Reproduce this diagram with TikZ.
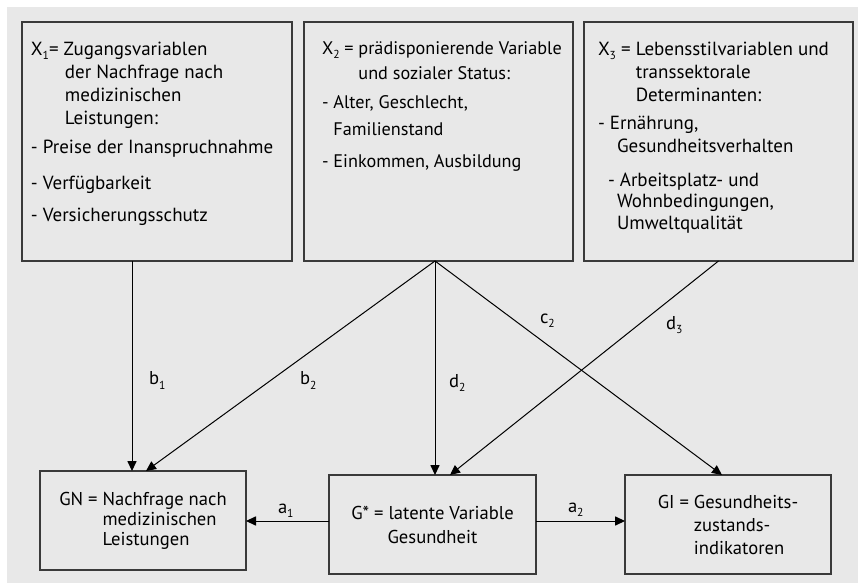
\documentclass[tikz,border=0pt]{standalone}
\usepackage{fontspec}
\setmainfont{PT Sans}
\usetikzlibrary{arrows.meta}
\definecolor{bggray}{HTML}{E8E8E8}
\definecolor{boxline}{HTML}{3A3A3A}
\newcommand{\lowidx}[1]{\raisebox{-2pt}{\fontsize{5.8}{6}\selectfont #1}}

\begin{document}
\begin{tikzpicture}[x=0.5pt, y=-0.5pt, line width=0.5pt,
  every node/.style={font=\fontsize{9.3}{11.5}\selectfont, inner sep=0pt, outer sep=0pt},
  box/.style={draw=boxline, line width=0.7pt, rectangle},
  toptxt/.style={anchor=north west, align=left, font=\fontsize{9.5}{11.5}\selectfont},
  lbl/.style={anchor=base west},
  arr/.style={-{Triangle[length=5pt,width=4.6pt]}}]
  \useasboundingbox (0,0) rectangle (858,583);
  \fill[bggray] (7,7) rectangle (858,583);
  % upper boxes
  \node[box, minimum width=135pt, minimum height=119.5pt] (x1) at (157,141.5) {};
  \node[box, minimum width=134.5pt, minimum height=119.5pt] (x2) at (438.5,141.5) {};
  \node[box, minimum width=134.5pt, minimum height=119.5pt] (x3) at (718.5,141.5) {};
  \node[toptxt] (x1txt) at (31,42) {X\lowidx{1}= Zugangsvariablen\\
    \hspace*{17pt}der Nachfrage nach\\
    \hspace*{17pt}medizinischen\\
    \hspace*{17pt}Leistungen:\\[3pt]
    - Preise der Inanspruchnahme\\[6.5pt]
    - Verfügbarkeit\\[4.5pt]
    - Versicherungsschutz};
  \node[toptxt, font=\fontsize{9.1}{11.5}\selectfont] (x2txt) at (322,42) {X\lowidx{2} = prädisponierende Variable\\[1pt]
    \hphantom{X\lowidx{2} = }und sozialer Status:\\[3pt]
    - Alter, Geschlecht,\\[2pt]
    \hphantom{- }Familienstand\\[4.5pt]
    - Einkommen, Ausbildung};
  \node[toptxt] (x3txt) at (598,42) {X\lowidx{3} = Lebensstilvariablen und\\
    \hphantom{X\lowidx{3} = }transsektorale\\
    \hphantom{X\lowidx{3} = }Determinanten:\\[2.5pt]
    - Ernährung,\\
    \hspace*{9.5pt}Gesundheitsverhalten\\[5.5pt]
    \hspace*{5pt}- Arbeitsplatz- und\\[-1pt]
    \hspace*{9.5pt}Wohnbedingungen,\\[-0.5pt]
    \hspace*{9.5pt}Umweltqualität};
  % lower boxes
  \node[box, minimum width=103pt, minimum height=49.5pt, align=left,
    font=\fontsize{9.3}{10}\selectfont] (gn) at (143,520.5) {GN = Nachfrage nach\\
    \hphantom{GN = }medizinischen\\
    \hphantom{GN = }Leistungen};
  \node[box, minimum width=103.5pt, minimum height=49.5pt, align=center,
    font=\fontsize{9.3}{12}\selectfont] (gs) at (432.5,524.5) {G* = latente Variable\\ Gesundheit};
  \node[box, minimum width=103pt, minimum height=49.5pt, align=left] (gi) at (728,524.5) {GI = Gesundheits-\\
    \hphantom{GI = }zustands-\\
    \hphantom{GI = }indikatoren};
  % arrows
  \coordinate (apex) at ([xshift=-1.75pt]x2.south);
  \draw[arr] ([xshift=55pt]x1.south west) -- ([xshift=55pt]x1.south west |- gn.north);
  \draw[arr] (apex) -- ([xshift=53pt]gn.north west);
  \draw[arr] (apex) -- (apex |- gs.north);
  \draw[arr] (x3.south) -- ([xshift=60.5pt]gs.north west);
  \draw[arr] (apex) -- ([xshift=-3pt]gi.north);
  \draw[arr] ([yshift=1.75pt]gs.west) -- ([yshift=1.75pt]gs.west -| gn.east);
  \draw[arr] ([yshift=1.75pt]gs.east) -- ([yshift=1.75pt]gs.east -| gi.west);
  % path labels
  \node[lbl] (lb1) at (149,385) {b\lowidx{1}};
  \node[lbl] (lb2) at (300,385) {b\lowidx{2}};
  \node[lbl] (ld2) at (449,387) {d\lowidx{2}};
  \node[lbl] (lc2) at (540,323) {c\lowidx{2}};
  \node[lbl] (ld3) at (666,329) {d\lowidx{3}};
  \node[lbl] (la1) at (278,513) {a\lowidx{1}};
  \node[lbl] (la2) at (568,512) {a\lowidx{2}};
\end{tikzpicture}
\end{document}
